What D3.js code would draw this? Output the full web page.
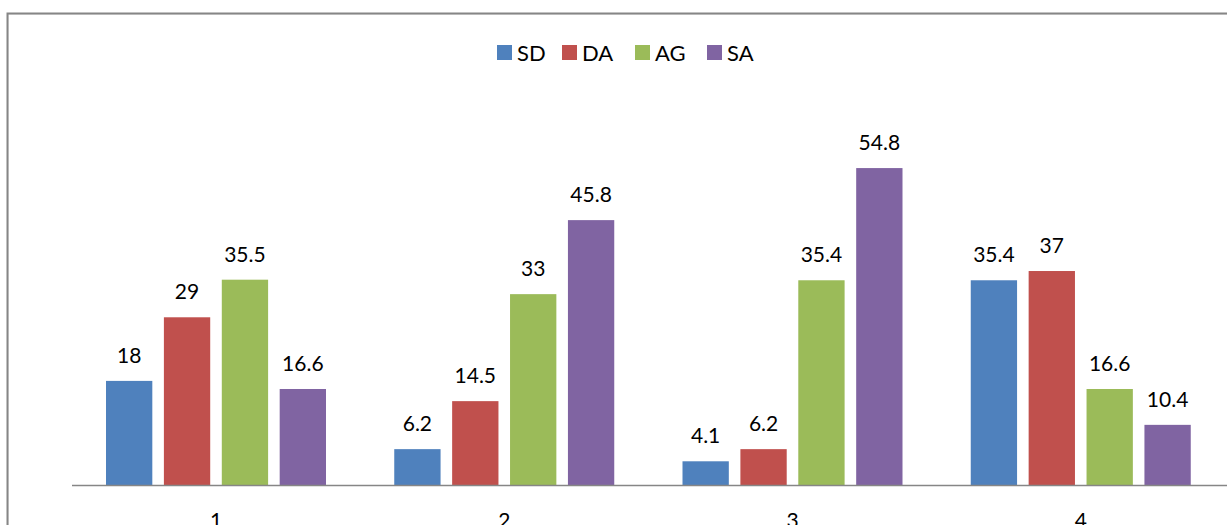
<!DOCTYPE html>
<html lang="en">
<head>
<meta charset="UTF-8" />
<script src="https://d3js.org/d3.v7.min.js"></script>
<style>
  html, body { margin: 0; padding: 0; background: #fff; overflow: hidden; }
  svg { display: block; font-family: Lato, 'Open Sans', sans-serif; }
  .val { font-size: 21px; fill: #000; text-anchor: middle; }
  .cat { font-size: 21px; fill: #000; text-anchor: middle; }
  .leg { font-size: 22px; fill: #000; }
</style>
</head>
<body>
<svg width="1227" height="525"></svg>
<script>
const categories = ["1", "2", "3", "4"];
const seriesNames = ["SD", "DA", "AG", "SA"];
const seriesColors = ["#4F81BD", "#C0504D", "#9BBB59", "#8064A2"];
const SD = [18, 6.2, 4.1, 35.4];
const DA = [29, 14.5, 6.2, 37];
const AG = [35.5, 33, 35.4, 16.6];
const SA = [16.6, 45.8, 54.8, 10.4];
const seriesValues = [SD, DA, AG, SA];

const svg = d3.select("svg");

// outer chart frame
svg.append("rect").attr("x", 8).attr("y", 14).attr("width", 1240).attr("height", 540)
  .attr("fill", "none").attr("stroke", "#d9d9d9").attr("stroke-width", 1);
svg.append("path").attr("d", "M7.5,540 V13.5 H1240")
  .attr("fill", "none").attr("stroke", "#868686").attr("stroke-width", 2);

const x0 = d3.scaleBand().domain(categories).range([72, 1225]).padding(0);
const x1 = d3.scaleBand().domain(seriesNames).range([34, 254]).paddingInner(0.2).paddingOuter(0);
const y = d3.scaleLinear().domain([0, 60]).range([485, 138]);

const groups = svg.selectAll("g.grp").data(categories).enter().append("g")
  .attr("class", "grp").attr("transform", d => `translate(${x0(d)},0)`);

groups.each(function(cat, ci) {
  const g = d3.select(this);
  seriesNames.forEach((s, si) => {
    const v = seriesValues[si][ci];
    g.append("rect")
      .attr("x", x1(s)).attr("width", x1.bandwidth())
      .attr("y", y(v)).attr("height", y(0) - y(v))
      .attr("fill", seriesColors[si]);
    g.append("text").attr("class", "val")
      .attr("x", x1(s) + x1.bandwidth() / 2)
      .attr("y", y(v) - 18)
      .text(v);
  });
});

// x axis line
svg.append("line").attr("x1", 72).attr("x2", 1227).attr("y1", 485.5).attr("y2", 485.5)
  .attr("stroke", "#868686").attr("stroke-width", 1.5);

svg.selectAll("text.cat").data(categories).enter().append("text")
  .attr("class", "cat")
  .attr("x", d => x0(d) + x0.bandwidth() / 2)
  .attr("y", 528)
  .text(d => d);

// legend
const legX = [497, 562, 635, 707];
const leg = svg.selectAll("g.leg").data(seriesNames).enter().append("g")
  .attr("transform", (d, i) => `translate(${legX[i]},45)`);
leg.append("rect").attr("width", 15).attr("height", 15).attr("fill", (d, i) => seriesColors[i]);
leg.append("text").attr("class", "leg").attr("x", 20).attr("y", 16).text(d => d);
</script>
</body>
</html>
